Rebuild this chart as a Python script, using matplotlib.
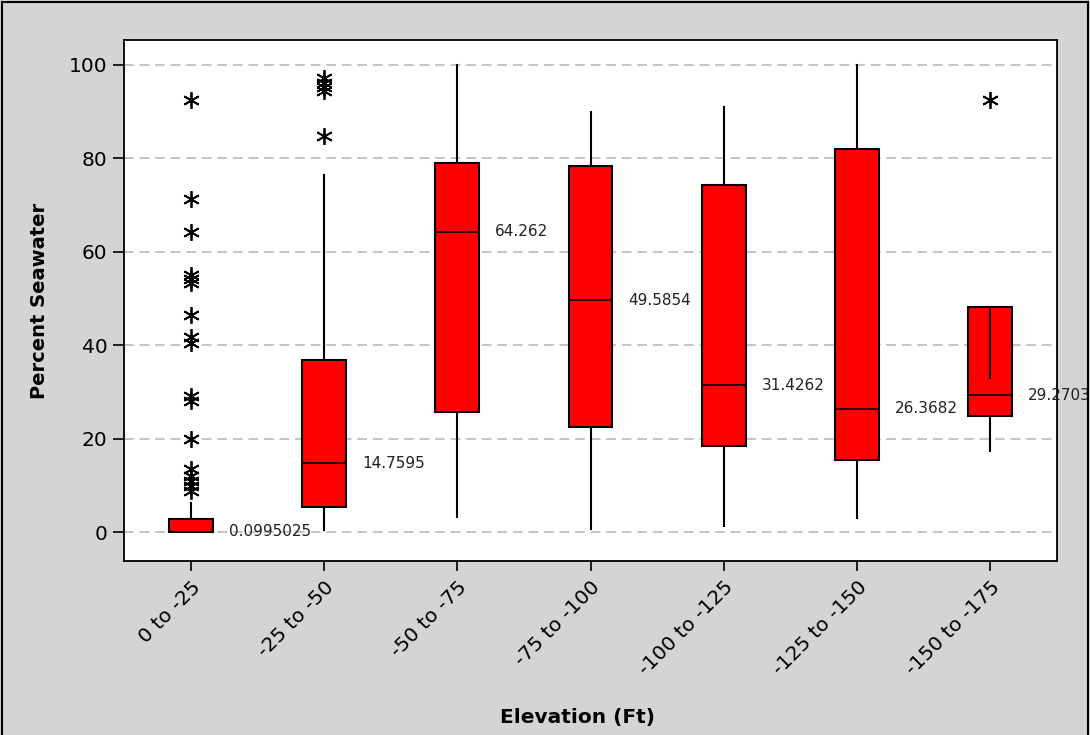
import numpy as np
import matplotlib.pyplot as plt
from matplotlib.patches import Rectangle

# categories (elevation bins)
groups = ['0 to -25', '-25 to -50', '-50 to -75', '-75 to -100',
          '-100 to -125', '-125 to -150', '-150 to -175']

# box statistics
q1 = [0.05, 5.3, 25.7, 22.4, 18.4, 15.5, 24.9]
med = [0.0995025, 14.7595, 64.262, 49.5854, 31.4262, 26.3682, 29.2703]
q3 = [2.9, 36.8, 79.1, 78.3, 74.2, 82.1, 48.2]
wlo = [0.0, 0.35, 3.2, 0.7, 1.4, 3.1, 17.4]
whi = [6.2, 76.4, 100.0, 89.9, 91.0, 100.0, 33.0]
med_labels = ['0.0995025', '14.7595', '64.262', '49.5854', '31.4262', '26.3682', '29.2703']

# outliers per group
outliers = [
    [92.4, 71.4, 64.2, 55.1, 54.2, 53.4, 46.5, 41.8, 40.5, 29.1, 28.0, 20.0,
     13.4, 11.9, 10.9, 9.8, 8.7],
    [97.3, 96.2, 95.3, 94.5, 84.8],
    [], [], [], [],
    [92.4],
]

stats = []
for i in range(len(groups)):
    stats.append(dict(med=med[i], q1=q1[i], q3=q3[i], whislo=wlo[i], whishi=whi[i],
                      fliers=outliers[i], label=groups[i]))

fig = plt.figure(figsize=(10.9, 7.35), dpi=100, facecolor='#d4d4d4')
# outer frame, open at the bottom like the original export
fig.patches.append(Rectangle((0.002, -0.05), 0.996, 1.047, transform=fig.transFigure,
                             fill=False, edgecolor='black', linewidth=1.5))
ax = fig.add_axes([0.1138, 0.2367, 0.8559, 0.7089])
ax.set_facecolor('white')

pos = np.arange(1, len(groups) + 1)
ax.bxp(stats, positions=pos, widths=0.33, patch_artist=True, showcaps=False,
       boxprops=dict(facecolor='#ff0000', edgecolor='black', linewidth=1.5),
       medianprops=dict(color='black', linewidth=1.2),
       whiskerprops=dict(color='black', linewidth=1.5),
       flierprops=dict(marker=(6, 2, 0), markersize=12, markeredgecolor='black',
                       markeredgewidth=1.3, linestyle='none'),
       zorder=3)

for p, m, lab in zip(pos, med, med_labels):
    ax.text(p + 0.285, m, lab, fontsize=11, va='center', ha='left', color='#202020',
            clip_on=False, zorder=4)

ax.set_xlim(0.5, 7.5)
ax.set_ylim(-6.2, 105.35)
ax.set_yticks([0, 20, 40, 60, 80, 100])
ax.set_xticks(pos)
ax.set_xticklabels(groups, rotation=45, ha='right', rotation_mode='anchor')
ax.tick_params(axis='y', labelsize=14.5, direction='out', length=8, width=1.2, pad=4)
ax.tick_params(axis='x', labelsize=14.5, direction='out', length=7, width=1.2, pad=5)
ax.yaxis.grid(True, color='#c4c4c4', linestyle=(0, (5, 3)), linewidth=1.4, zorder=0)
ax.set_axisbelow(True)
for s in ax.spines.values():
    s.set_linewidth(1.3)

ax.set_ylabel('Percent Seawater', fontsize=14, fontweight='bold', labelpad=14)
ax.set_xlabel('Elevation (Ft)', fontsize=14.5, fontweight='bold')
ax.xaxis.set_label_coords(0.486, -0.282)

fig.savefig('out.png', dpi=100, facecolor=fig.get_facecolor())
